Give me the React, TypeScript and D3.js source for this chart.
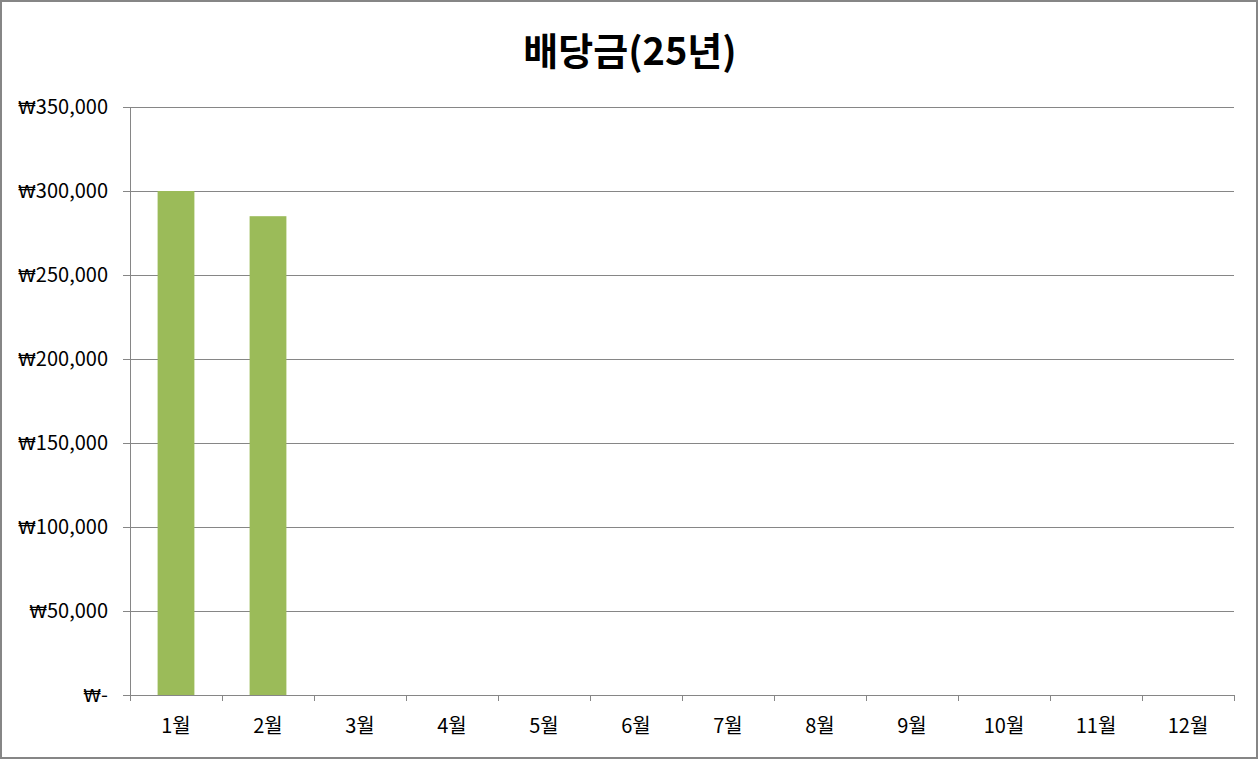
import React from "react";
import * as d3 from "d3";

const title = "배당금(25년)";
const months = ["1월", "2월", "3월", "4월", "5월", "6월", "7월", "8월", "9월", "10월", "11월", "12월"];
const values: (number | null)[] = [300000, 285000, null, null, null, null, null, null, null, null, null, null];
const yTicks = [0, 50000, 100000, 150000, 200000, 250000, 300000, 350000];

const W = 1258;
const H = 759;
const left = 130;
const right = 1234;
const top = 107;
const bottom = 695;
const font = "'Noto Sans CJK KR', 'Noto Sans', sans-serif";
const gridColor = "#868686";

export default function App() {
  const x = d3.scaleBand<string>().domain(months).range([left, right]).paddingInner(0).paddingOuter(0);
  const y = d3.scaleLinear().domain([0, 350000]).range([bottom, top]);
  const barW = x.bandwidth() * 0.4;
  const num = (v: number) => (v === 0 ? "-" : d3.format(",")(v));

  return (
    <div style={{ position: "fixed", left: 0, top: 0, width: W, height: H, background: "#fff" }}>
      <svg width={W} height={H} style={{ display: "block" }}>
        <rect x={1} y={1} width={W - 2} height={H - 2} fill="#fff" stroke="#868686" strokeWidth={2} />
        <text x={630} y={65} textAnchor="middle" fontFamily={font} fontWeight="bold" fontSize={38} fill="#000">
          {title}
        </text>
        {yTicks.map((t) => (
          <g key={t}>
            <line
              x1={left - 7}
              x2={t === 0 ? left : right}
              y1={Math.round(y(t)) + 0.5}
              y2={Math.round(y(t)) + 0.5}
              stroke={gridColor}
              strokeWidth={1}
            />
            <text
              x={108}
              y={y(t)}
              dy="0.35em"
              textAnchor="end"
              fontFamily={font}
              fontSize={20}
              fill="#000"
            >
              <tspan fontFamily="'DejaVu Sans', sans-serif" fontSize={18}>₩</tspan>
              {num(t)}
            </text>
          </g>
        ))}
        {values.map((v, i) =>
          v == null ? null : (
            <rect
              key={months[i]}
              x={(x(months[i]) as number) + (x.bandwidth() - barW) / 2}
              y={y(v)}
              width={barW}
              height={y(0) - y(v)}
              fill="#9BBB59"
            />
          )
        )}
        <line x1={left + 0.5} x2={left + 0.5} y1={top} y2={bottom} stroke={gridColor} strokeWidth={1} />
        <line x1={left} x2={right} y1={bottom + 0.5} y2={bottom + 0.5} stroke={gridColor} strokeWidth={1} />
        {months.map((m, i) => (
          <line
            key={"t" + i}
            x1={Math.round(x(m) as number) + 0.5}
            x2={Math.round(x(m) as number) + 0.5}
            y1={bottom}
            y2={bottom + 6}
            stroke={gridColor}
          />
        ))}
        <line x1={right + 0.5} x2={right + 0.5} y1={bottom} y2={bottom + 6} stroke={gridColor} />
        {months.map((m) => (
          <text
            key={"l" + m}
            x={(x(m) as number) + x.bandwidth() / 2}
            y={733}
            textAnchor="middle"
            fontFamily={font}
            fontSize={20}
            fill="#000"
          >
            {m}
          </text>
        ))}
      </svg>
    </div>
  );
}
